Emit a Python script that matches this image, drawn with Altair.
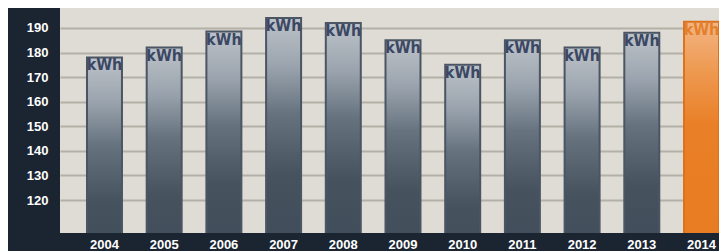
import altair as alt
import pandas as pd

years = ["2004", "2005", "2006", "2007", "2008", "2009", "2010", "2011", "2012", "2013", "2014"]
values = [178, 182, 188.5, 194, 192, 185, 175, 185, 182, 188, 192.5]
label = "kWh"
highlight_year = "2014"

df = pd.DataFrame({"year": years, "value": values})
df["label"] = label
df["hl"] = df["year"] == highlight_year

grey_grad = alt.Gradient(
    gradient="linear",
    stops=[
        alt.GradientStop(color="#bcc2c8", offset=0),
        alt.GradientStop(color="#9ba4ae", offset=0.1),
        alt.GradientStop(color="#66737f", offset=0.2),
        alt.GradientStop(color="#46535f", offset=0.33),
        alt.GradientStop(color="#3a4654", offset=0.6),
        alt.GradientStop(color="#323e4b", offset=1),
    ],
    x1=0, x2=0, y1=0, y2=1,
)
orange_grad = alt.Gradient(
    gradient="linear",
    stops=[
        alt.GradientStop(color="#f3b585", offset=0),
        alt.GradientStop(color="#ee9a52", offset=0.1),
        alt.GradientStop(color="#e97f26", offset=0.22),
        alt.GradientStop(color="#e5761c", offset=1),
    ],
    x1=0, x2=0, y1=0, y2=1,
)

x = alt.X(
    "year:N",
    sort=years,
    title=None,
    scale=alt.Scale(paddingInner=0.414, paddingOuter=0.226, align=1),
    axis=alt.Axis(labelAngle=0, labelColor="#ffffff", labelFont="Liberation Sans",
                  labelFontSize=13, labelFontWeight="bold", ticks=False, domain=False,
                  labelPadding=5),
)
y = alt.Y(
    "value:Q",
    title=None,
    scale=alt.Scale(domain=[106.6, 198.1], nice=False, zero=False),
    axis=alt.Axis(values=[120, 130, 140, 150, 160, 170, 180, 190, 200],
                  labelColor="#ffffff", labelFont="Liberation Sans", labelFontSize=13,
                  labelFontWeight="bold", ticks=False, domain=False, labelPadding=12,
                  gridColor="#b3b0a8", gridWidth=2),
)

base = alt.Chart(df).encode(x=x, y=y)

bars_grey = base.transform_filter("!datum.hl").mark_bar(
    color=grey_grad, stroke="#4b5563", strokeWidth=2, clip=True
).encode(y2=alt.value(225))
bars_or = base.transform_filter("datum.hl").mark_bar(
    color=orange_grad, stroke="#dc721c", strokeWidth=2, clip=True
).encode(y2=alt.value(225))

txt_font = "DejaVu Sans Condensed, Liberation Sans"
txt_grey = base.transform_filter("!datum.hl").mark_text(
    baseline="top", dy=0, font=txt_font, fontSize=16,
    fontWeight="bold", color="#3b4763"
).encode(text="label:N")
txt_or = base.transform_filter("datum.hl").mark_text(
    baseline="top", dy=0, font=txt_font, fontSize=16,
    fontWeight="bold", color="#e3802c"
).encode(text="label:N")

chart = alt.layer(bars_grey, bars_or, txt_grey, txt_or).properties(
    width=659, height=225,
    background="#1b2431",
    padding={"left": 52, "top": 0, "right": 0, "bottom": 18},
    autosize=alt.AutoSizeParams(type="none"),
).configure_view(fill="#dedcd5", stroke=None)

chart.save("out.html", embed_options={"renderer": "svg", "actions": False})
